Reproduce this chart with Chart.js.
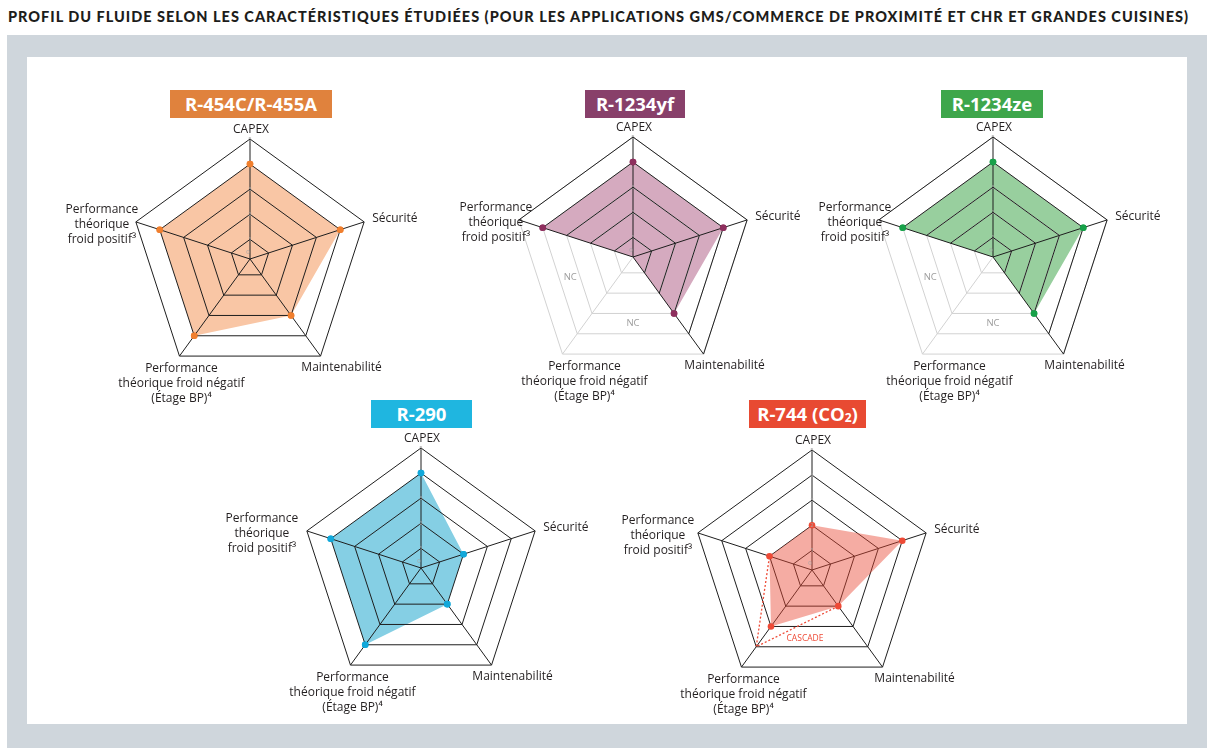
<!DOCTYPE html>
<html lang="fr">
<head>
<meta charset="utf-8">
<title>Profil du fluide</title>
<script src="https://cdn.jsdelivr.net/npm/chart.js@4.4.1/dist/chart.umd.min.js"></script>
<style>
  html, body { margin: 0; padding: 0; }
  body {
    width: 1215px; height: 756px; position: relative; overflow: hidden;
    background: #fff; font-family: "Open Sans", "DejaVu Sans", sans-serif;
  }
  #title {
    position: absolute; left: 8px; top: 8px; white-space: nowrap;
    font-family: Lato, "Open Sans", sans-serif;
    font-weight: 900; font-size: 14.5px; color: #1d1d1b;
  }
  .frame { position: absolute; left: 7px; top: 35px; width: 1200px; height: 713px; background: #cfd6dc; }
  .panel { position: absolute; left: 27px; top: 57px; width: 1160px; height: 667px; background: #fff; }
  .badge {
    position: absolute; height: 28px; line-height: 28px; text-align: center;
    color: #fff; font-weight: 700; font-size: 18.5px; white-space: nowrap;
  }
  .badge sub { font-size: 12px; vertical-align: -1px; }
  .radar { position: absolute; width: 420px; height: 340px; }
</style>
</head>
<body>
<div id="title">PROFIL DU FLUIDE SELON LES CARACTÉRISTIQUES ÉTUDIÉES (POUR LES APPLICATIONS GMS/COMMERCE DE PROXIMITÉ ET CHR ET GRANDES CUISINES)</div>
<div class="frame"></div>
<div class="panel"></div>

<div class="badge" style="left:170px;top:90px;width:162px;background:#e0823d">R-454C/R-455A</div>
<div class="badge" style="left:585px;top:90px;width:100px;background:#88406a">R-1234yf</div>
<div class="badge" style="left:941px;top:90px;width:102px;background:#3ea64b">R-1234ze</div>
<div class="badge" style="left:371px;top:400px;width:101px;background:#1fb6e0">R-290</div>
<div class="badge" style="left:749px;top:400px;width:117px;background:#e84a32">R-744 (CO<sub>2</sub>)</div>

<div class="radar" style="left:40px;top:89px"><canvas id="c454"></canvas></div>
<div class="radar" style="left:423px;top:87px"><canvas id="c1234yf"></canvas></div>
<div class="radar" style="left:783px;top:87px"><canvas id="c1234ze"></canvas></div>
<div class="radar" style="left:211px;top:398px"><canvas id="c290"></canvas></div>
<div class="radar" style="left:602px;top:400px"><canvas id="c744"></canvas></div>

<script>
// ---- data ----
const axisLabels = [
  ['CAPEX'],
  ['Sécurité'],
  ['Maintenabilité'],
  ['Performance', 'théorique froid négatif', '(Étage BP)⁴'],
  ['Performance', 'théorique', 'froid positif³']
];
const tickValues = [0, 1, 2, 3, 4, 5];

// null = NC (non concerné)
const r454cValues   = [4, 4, 3, 4, 4];
const r1234yfValues = [4, 4, 3, null, 4];
const r1234zeValues = [4, 4, 3, null, 4];
const r290Values    = [4, 2, 2, 4, 4];
const r744Values    = [2, 4, 2, 3, 2];
const r744Cascade   = [null, null, 2, 4, 2];
const ncLabel       = 'NC';
const cascadeLabel  = 'CASCADE';

// ---- styling ----
const SCALE_MIN = 0.22;
const LINE = '#1e1e1e';
const FAINT = '#d2d2d2';
const FONT = '"Open Sans", "DejaVu Sans", sans-serif';

// fit the title to the frame width
(function () {
  const t = document.getElementById('title');
  const w = t.getBoundingClientRect().width;
  const n = t.textContent.length;
  t.style.letterSpacing = ((1180 - w) / (n - 1)).toFixed(3) + 'px';
})();

const BASE_OFFSETS = [
  { dx: 1,   dy: -9 },
  { dx: 8,   dy: -3, align: 'left' },
  { dx: 21,  dy: 11 },
  { dx: 2,   dy: 12 },
  { dx: -34, dy: -12 }
];

function decorPlugin(cfg) {
  const offs = BASE_OFFSETS.map((o, i) => Object.assign({}, o, (cfg.nudge || {})[i] || {}));
  return {
    id: 'radarDecor',
    afterDraw(chart) {
      const s = chart.scales.r;
      const ctx = chart.ctx;
      const n = chart.data.labels.length;
      ctx.save();

      // black ring segments over the faint grid (NC charts)
      if (cfg.nc) {
        ctx.strokeStyle = LINE;
        ctx.lineWidth = 1;
        s.ticks.forEach(t => {
          if (t.value <= s.min) return;
          cfg.blackEdges.forEach(a => {
            const p = s.getPointPositionForValue(a, t.value);
            const q = s.getPointPositionForValue((a + 1) % n, t.value);
            ctx.beginPath(); ctx.moveTo(p.x, p.y); ctx.lineTo(q.x, q.y); ctx.stroke();
          });
        });
        ctx.font = '9.5px ' + FONT;
        ctx.fillStyle = '#9d9d9d';
        ctx.textAlign = 'center';
        ctx.textBaseline = 'middle';
        [2.5, 3.5].forEach(k => {
          const p = s.getPointPosition(k, s.getDistanceFromCenterForValue(2.85));
          ctx.fillText(ncLabel, p.x, p.y);
        });
      }

      // points on top of the grid
      if (cfg.gridOnTop) {
        chart.data.datasets.forEach((d, i) => {
          chart.getDatasetMeta(i).data.forEach(pt => pt.draw(ctx, chart.chartArea));
        });
      }

      // "0" tick near the centre
      ctx.font = '6px ' + FONT;
      ctx.fillStyle = '#a5a5a5';
      ctx.textAlign = 'center';
      ctx.textBaseline = 'middle';
      ctx.fillText(String(tickValues[0]), s.xCenter - 2, s.yCenter - 7);

      // axis labels
      ctx.font = '12px ' + FONT;
      ctx.fillStyle = '#231f20';
      chart.data.labels.forEach((lines, i) => {
        const v = s.getPointPositionForValue(i, s.max);
        const o = offs[i];
        ctx.textAlign = o.align || 'center';
        lines.forEach((ln, k) => ctx.fillText(ln, v.x + o.dx, v.y + o.dy + k * 15));
      });

      if (cfg.cascade) {
        ctx.font = '8.5px ' + FONT;
        ctx.fillStyle = '#ee4a36';
        ctx.textAlign = 'center';
        ctx.fillText(cascadeLabel, s.xCenter - 7, s.yCenter + 69);
      }
      ctx.restore();
    }
  };
}

function makeRadar(id, values, cfg) {
  const datasets = [{
    data: values.map(v => v === null ? SCALE_MIN : v),
    backgroundColor: cfg.fill,
    borderColor: 'rgba(0,0,0,0)',
    borderWidth: 0,
    fill: true,
    pointRadius: ctx => values[ctx.dataIndex] === null ? 0 : 3.3,
    pointHoverRadius: 3.3,
    pointBackgroundColor: cfg.dot,
    pointBorderWidth: 0
  }];
  if (cfg.cascade) {
    datasets.unshift({
      data: cfg.cascade,
      borderColor: '#ee4a36',
      borderWidth: 1.3,
      borderDash: [2, 2],
      fill: false,
      spanGaps: false,
      pointRadius: 0
    });
  }
  const layer = cfg.gridOnTop ? 1 : -1;

  new Chart(document.getElementById(id), {
    type: 'radar',
    data: { labels: axisLabels, datasets: datasets },
    options: {
      responsive: true,
      maintainAspectRatio: false,
      animation: false,
      events: [],
      layout: { padding: { left: 87, right: 87, top: 47, bottom: 47 } },
      plugins: { legend: { display: false }, tooltip: { enabled: false } },
      scales: {
        r: {
          min: SCALE_MIN,
          max: 5,
          afterBuildTicks: scale => {
            scale.ticks = [{ value: SCALE_MIN }].concat(
              tickValues.filter(v => v > SCALE_MIN).map(v => ({ value: v }))
            );
          },
          ticks: {
            display: true,
            z: 1,
            showLabelBackdrop: false,
            backdropPadding: 0,
            color: '#a5a5a5',
            font: { size: 6, family: FONT },
            callback: v => String(v)
          },
          grid: { z: layer, color: cfg.nc ? FAINT : LINE, lineWidth: 1 },
          angleLines: {
            color: ctx => (cfg.nc && ctx.index === 3) ? FAINT : LINE,
            lineWidth: 1
          },
          pointLabels: { display: false }
        }
      }
    },
    plugins: [decorPlugin(cfg)]
  });
}

makeRadar('c454', r454cValues, {
  fill: '#f9c6a5', dot: '#f07f2e', gridOnTop: true
});
makeRadar('c1234yf', r1234yfValues, {
  fill: '#d5aabf', dot: '#8e2f5e', gridOnTop: true,
  nc: true, blackEdges: [0, 1, 4],
  nudge: { 3: { dx: 22 }, 4: { dx: -23 } }
});
makeRadar('c1234ze', r1234zeValues, {
  fill: '#98cf9e', dot: '#17a149', gridOnTop: true,
  nc: true, blackEdges: [0, 1, 4],
  nudge: { 3: { dx: 27 }, 4: { dx: -24 } }
});
makeRadar('c290', r290Values, {
  fill: '#85cfe4', dot: '#11a8da', gridOnTop: true,
  nudge: { 4: { dx: -45 } }
});
makeRadar('c744', r744Values, {
  fill: 'rgba(233,70,50,0.45)', dot: '#ee4a36', gridOnTop: false,
  cascade: r744Cascade,
  nudge: { 2: { dx: 32 }, 4: { dx: -40 } }
});
</script>
</body>
</html>
